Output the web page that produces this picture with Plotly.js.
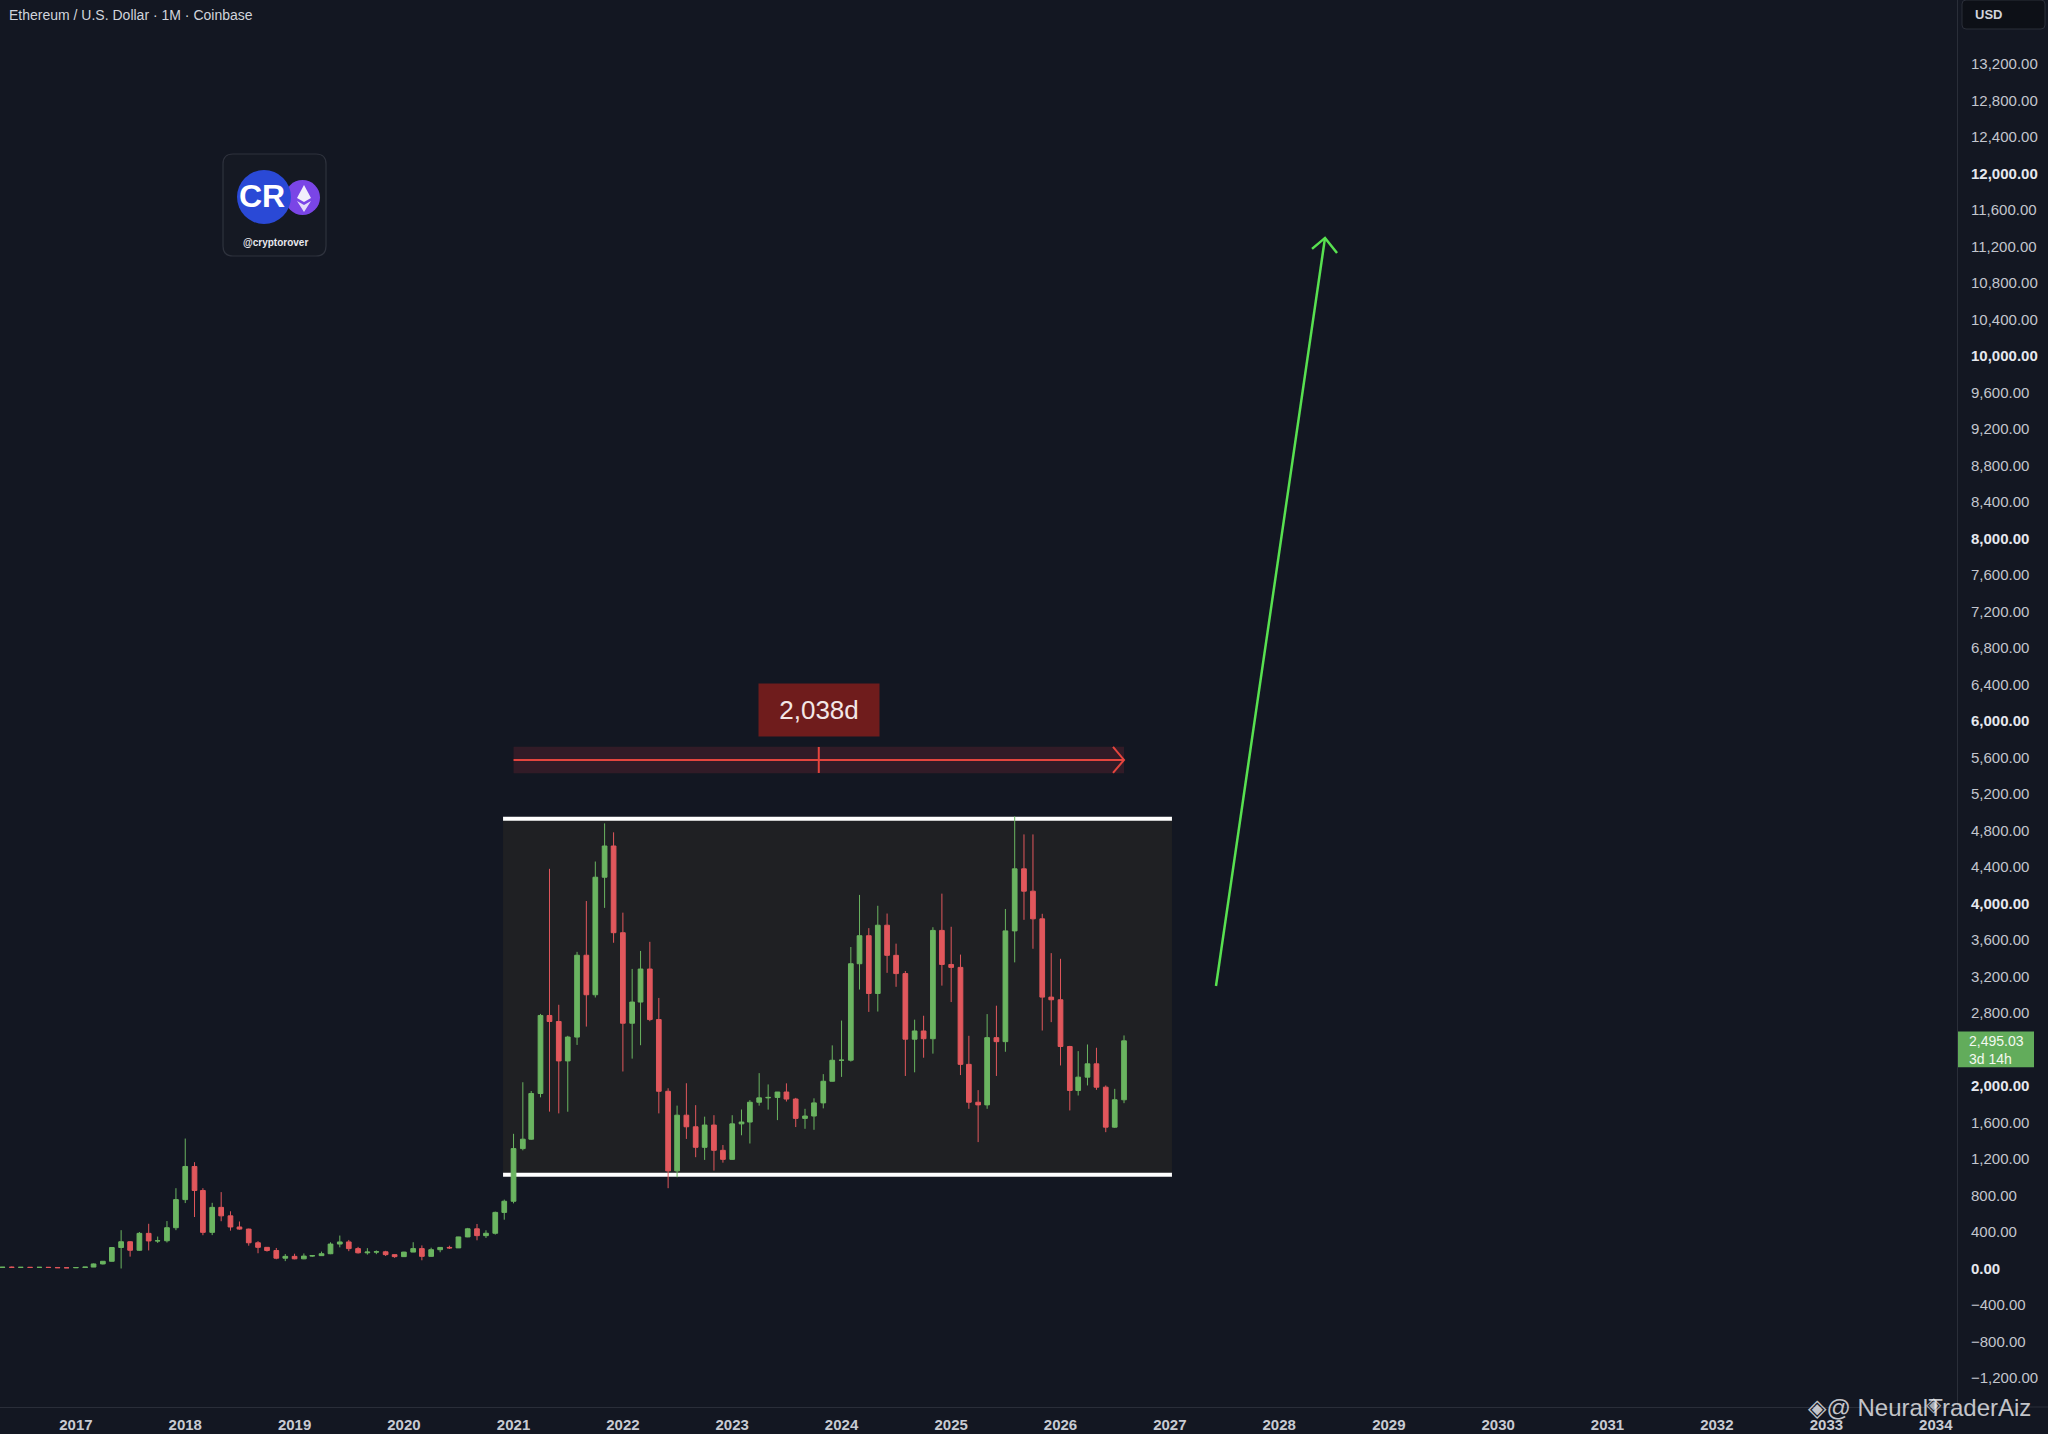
<!DOCTYPE html>
<html>
<head>
<meta charset="utf-8">
<script src="https://cdn.plot.ly/plotly-3.0.1.min.js"></script>
<style>
html,body{margin:0;padding:0;background:#131722;}
#chart{width:2048px;height:1434px;}
</style>
</head>
<body>
<div id="chart"></div>
<script>
// ---------- DATA (monthly ETH/USD candles, Coinbase) ----------
const firstMonth = [2016, 5];   // May 2016
const openP = [
  11.5,14.1,12.4,12.7,11.5,13.2,11.3,8.6,
  8.0,10.7,15.7,50,79,230,293,200,385,302,304,447,
  755,1118,855,396,670,577,455,432,282,232,197,113,
  133,106,136,141,162,268,291,218,172,180,183,152,
  130,180,218,133,206,231,226,346,435,360,386,615,
  737,1314,1417,1918,2773,2707,2275,2536,3433,3000,4288,4630,
  3680,2688,2920,3282,2728,1942,1070,1680,1553,1328,1572,1295,
  1196,1585,1605,1822,1870,1875,1934,1857,1645,1671,1815,2052,
  2282,2283,3340,3647,3014,3762,3432,3232,2513,2603,2518,3705,
  3332,3300,2237,1822,1793,2530,2486,3700,4380,4135,3832,2974,
  2945,2433,1951,2097,2243,1987,1549,1849
];
const highP = [
  14.5,21.5,14.9,12.9,14.0,13.4,11.7,8.9,
  11.6,16.5,55,82,230,420,300,400,490,350,520,880,
  1424,1165,880,720,837,627,515,437,300,233,225,158,
  162,165,147,185,287,361,313,237,223,198,194,153,
  183,288,253,228,228,250,347,445,488,419,623,755,
  1476,2041,1945,2790,4380,2890,2550,3470,4027,4460,4878,4780,
  3900,3283,3480,3580,2965,1975,1785,2030,1790,1664,1680,1353,
  1680,1742,1845,2141,2017,1930,2029,1870,1750,1865,2130,2445,
  2717,3523,4094,3730,3975,3890,3560,3260,2727,2770,3740,4108,
  3745,3440,2550,1955,2788,2880,3940,4955,4757,4757,3887,3456,
  3394,2440,2382,2455,2419,2006,1969,2554
];
const lowP = [
  9.5,11.5,10.6,10.2,11.3,10.6,8.3,5.9,
  7.9,10.2,15.3,44,77,0.1,130,195,198,280,285,420,
  717,564,365,366,518,415,425,250,167,185,101,81,
  101,102,128,138,157,232,190,164,152,157,137,117,
  127,180,90,131,178,215,225,343,309,335,372,535,
  714,1295,1410,1876,1719,1700,1718,2450,2651,2970,3952,3570,
  2159,2300,2447,2710,1700,880,1000,1420,1220,1190,1073,1160,
  1192,1460,1370,1785,1741,1626,1830,1550,1531,1520,1755,2050,
  2100,2268,3057,2812,2816,3240,3087,2110,2150,2310,2355,3100,
  2920,2120,1750,1385,1750,2110,2375,3355,3821,3504,2608,2700,
  2225,1732,1896,2006,1958,1494,1541,1812
];
const closeP = [
  14.1,12.4,12.7,11.5,13.2,11.3,8.6,8.0,
  10.7,15.7,50,79,230,293,200,385,302,304,447,755,
  1118,855,396,670,577,455,432,282,232,197,113,133,
  106,136,141,162,268,291,218,172,180,183,152,130,
  180,218,133,206,231,226,346,435,360,386,615,737,
  1314,1417,1918,2773,2707,2275,2536,3433,3000,4288,4630,3680,
  2688,2920,3282,2728,1942,1070,1680,1553,1328,1572,1295,1196,
  1585,1605,1822,1870,1875,1934,1857,1645,1671,1815,2052,2282,
  2283,3340,3647,3014,3762,3432,3232,2513,2603,2518,3705,3332,
  3300,2237,1822,1793,2530,2486,3700,4380,4135,3832,2974,2945,
  2433,1951,2097,2243,1987,1549,1849,2495.03
];
const yearLabels = ['2017','2018','2019','2020','2021','2022','2023','2024','2025','2026','2027','2028','2029','2030','2031','2032','2033','2034'];
const priceTicks = [-1200,-800,-400,0,400,800,1200,1600,2000,2800,3200,3600,4000,4400,4800,5200,5600,6000,6400,6800,7200,7600,8000,8400,8800,9200,9600,10000,10400,10800,11200,11600,12000,12400,12800,13200];
const lastPrice = 2495.03;
const lastPriceText = '2,495.03';
const countdownText = '3d 14h';
const rangeDaysText = '2,038d';
// range box & drawing levels
const boxTop = 4929, boxBottom = 1027;
const boxStart = '2020-11-27', boxEnd = '2027-01-08';
const rangeStart = '2021-01-01', rangeEnd = '2026-08-01', rangeMid = '2023-10-17';
const rangeLevel = 5573, rangeBandLow = 5427, rangeBandHigh = 5719, rangeLabelLevel = 6121;
const arrowStart = ['2027-06-04', 3096], arrowEnd = ['2028-06-02', 11294];

// ---------- month categories ----------
const months = [];
for (let i = 0; i < openP.length; i++) {
  const y = firstMonth[0] + Math.floor((firstMonth[1] - 1 + i) / 12);
  const m = (firstMonth[1] - 1 + i) % 12 + 1;
  months.push(y + '-' + String(m).padStart(2, '0') + '-01');
}

// ---------- geometry ----------
const W = 2048, H = 1434;
const M = {l: 0, r: 91, t: 0, b: 27};
const plotW = W - M.l - M.r, plotH = H - M.t - M.b;
const x2017px = 75.9, x2034px = 1935.8;
const t2017 = Date.UTC(2017, 0, 1), t2034 = Date.UTC(2034, 0, 1);
const msPerPx = (t2034 - t2017) / (x2034px - x2017px);
const xRange = [t2017 - x2017px * msPerPx, t2017 + (plotW - x2017px) * msPerPx];
const zeroPx = 1268.5, pricePerPx = 400 / 36.5;
const yRange = [-(plotH - zeroPx) * pricePerPx, zeroPx * pricePerPx];
const px = v => v / plotW;
const py = v => 1 - v / plotH;

const fmt = v => {
  const s = Math.abs(v).toLocaleString('en-US', {minimumFractionDigits: 2, maximumFractionDigits: 2});
  return (v < 0 ? '\u2212' : '') + s;
};
const tickText = priceTicks.map(v => (v % 2000 === 0) ? '<b><span style="fill:#e6e8ee">' + fmt(v) + '</span></b>' : fmt(v));
const yearVals = yearLabels.map(y => y + '-01-01');

const GREEN = '#6ab460', RED = '#e1575c';
const FONT = 'Liberation Sans, Arial, sans-serif';

const trace = {
  type: 'candlestick',
  x: months, open: openP, high: highP, low: lowP, close: closeP,
  increasing: {line: {color: GREEN, width: 1}, fillcolor: GREEN},
  decreasing: {line: {color: RED, width: 1}, fillcolor: RED},
  whiskerwidth: 0,
  hoverinfo: 'skip',
  showlegend: false
};

const pix = {xref: 'paper', yref: 'paper', xsizemode: 'pixel', ysizemode: 'pixel', xanchor: 0, yanchor: 1};

const shapes = [
  // consolidation box
  {type: 'rect', xref: 'x', yref: 'y', x0: boxStart, x1: boxEnd, y0: boxBottom, y1: boxTop,
   fillcolor: '#1f2023', line: {width: 0}, layer: 'below'},
  {type: 'line', xref: 'x', yref: 'y', x0: boxStart, x1: boxEnd, y0: boxTop, y1: boxTop,
   line: {color: '#ffffff', width: 4}, layer: 'below'},
  {type: 'line', xref: 'x', yref: 'y', x0: boxStart, x1: boxEnd, y0: boxBottom, y1: boxBottom,
   line: {color: '#ffffff', width: 4}, layer: 'below'},
  // date range
  {type: 'rect', xref: 'x', yref: 'y', x0: rangeStart, x1: rangeEnd, y0: rangeBandLow, y1: rangeBandHigh,
   fillcolor: 'rgba(242,54,69,0.14)', line: {width: 0}},
  {type: 'line', xref: 'x', yref: 'y', x0: rangeStart, x1: rangeEnd, y0: rangeLevel, y1: rangeLevel,
   line: {color: '#e5453e', width: 2}},
  {type: 'line', xref: 'x', yref: 'y', ysizemode: 'pixel', yanchor: rangeLevel, x0: rangeMid, x1: rangeMid, y0: -13, y1: 13,
   line: {color: '#e5453e', width: 2}},
  {type: 'path', xref: 'x', yref: 'y', xsizemode: 'pixel', ysizemode: 'pixel', xanchor: rangeEnd, yanchor: rangeLevel,
   path: 'M-11,13 L0,0 L-11,-13', line: {color: '#e5453e', width: 2}},
  // green projection arrow
  {type: 'line', xref: 'x', yref: 'y', x0: arrowStart[0], y0: arrowStart[1], x1: arrowEnd[0], y1: arrowEnd[1],
   line: {color: '#58e150', width: 2.5}},
  {type: 'path', xref: 'x', yref: 'y', xsizemode: 'pixel', ysizemode: 'pixel', xanchor: arrowEnd[0], yanchor: arrowEnd[1],
   path: 'M-13,-11 L0,0 L12,-15', line: {color: '#58e150', width: 2.5}},
  // logo
  Object.assign({type: 'path', path: 'M233,-154 L316,-154 Q326,-154 326,-164 L326,-246 Q326,-256 316,-256 L233,-256 Q223,-256 223,-246 L223,-164 Q223,-154 233,-154 Z',
   fillcolor: '#151923', line: {color: '#2e323d', width: 1.2}}, pix),
  Object.assign({type: 'circle', x0: 285, x1: 320, y0: -180, y1: -215, fillcolor: '#7a45e6', line: {width: 0}}, pix),
  Object.assign({type: 'circle', x0: 237, x1: 291, y0: -170, y1: -224, fillcolor: '#2a49d6', line: {width: 0}}, pix),
  Object.assign({type: 'path', path: 'M304,-185 L311,-198 L304,-202 L297,-198 Z', fillcolor: '#f2eefc', line: {width: 0}}, pix),
  Object.assign({type: 'path', path: 'M297,-201 L304,-205 L311,-201 L304,-212 Z', fillcolor: '#e4dcfa', line: {width: 0}}, pix),
  // USD box
  Object.assign({type: 'path', path: 'M1966,0 L2041,0 Q2045,0 2045,-4 L2045,-25 Q2045,-29 2041,-29 L1966,-29 Q1962,-29 1962,-25 L1962,-4 Q1962,0 1966,0 Z',
   fillcolor: '#0d1017', line: {color: '#2a2e39', width: 1}}, pix),
  // x axis line continuation under price scale
  {type: 'line', xref: 'paper', yref: 'paper', x0: 1, x1: W / plotW, y0: 0, y1: 0, line: {color: '#2a2e39', width: 1}},
  // last price label
  {type: 'rect', xref: 'paper', yref: 'y', ysizemode: 'pixel', yanchor: lastPrice,
   x0: 1958 / plotW, x1: 2034 / plotW, y0: -26.3, y1: 9.3, fillcolor: '#62ac5b', line: {width: 0}}
];

const annotations = [
  {xref: 'paper', yref: 'paper', x: px(7), y: py(15), xanchor: 'left', yanchor: 'middle', showarrow: false,
   text: 'Ethereum / U.S. Dollar · 1M · Coinbase', font: {family: FONT, size: 14, color: '#d1d4dc'}},
  {xref: 'x', yref: 'y', x: rangeMid, y: rangeLabelLevel, showarrow: false, text: rangeDaysText,
   font: {family: FONT, size: 26, color: '#f3e7e7'}, bgcolor: '#6f1c1c', width: 120, height: 52, borderpad: 0,
   xanchor: 'center', yanchor: 'middle'},
  {xref: 'paper', yref: 'paper', x: px(262), y: py(196), showarrow: false, text: '<b>CR</b>',
   font: {family: FONT, size: 32, color: '#ffffff'}, xanchor: 'center', yanchor: 'middle'},
  {xref: 'paper', yref: 'paper', x: px(275), y: py(242), showarrow: false, text: '<b>@cryptorover</b>',
   font: {family: FONT, size: 10, color: '#e8e8ee'}, xanchor: 'center', yanchor: 'middle'},
  {xref: 'paper', yref: 'paper', x: px(1973), y: py(14.5), showarrow: false, text: '<b>USD</b>',
   font: {family: FONT, size: 13, color: '#d1d4dc'}, xanchor: 'left', yanchor: 'middle'},
  {xref: 'paper', yref: 'y', x: px(1967), y: lastPrice, yshift: -0.5, showarrow: false, text: lastPriceText,
   font: {family: FONT, size: 14, color: '#f2f8f0'}, xanchor: 'left', yanchor: 'middle'},
  {xref: 'paper', yref: 'y', x: px(1967), y: lastPrice, yshift: -17.7, showarrow: false, text: countdownText,
   font: {family: FONT, size: 14, color: '#f2f8f0'}, xanchor: 'left', yanchor: 'middle'},
  {xref: 'paper', yref: 'paper', x: px(1806), y: py(1407), showarrow: false, text: '◈@ NeuralTraderAiz',
   font: {family: 'Liberation Sans, DejaVu Sans, sans-serif', size: 24, color: 'rgba(235,236,240,0.82)'},
   xanchor: 'left', yanchor: 'middle'},
  {xref: 'paper', yref: 'paper', x: px(1924), y: py(1404), showarrow: false, text: '◈',
   font: {family: 'DejaVu Sans, sans-serif', size: 20, color: 'rgba(235,236,240,0.7)'},
   xanchor: 'left', yanchor: 'middle'}
];

const layout = {
  width: W, height: H,
  margin: M,
  paper_bgcolor: '#131722', plot_bgcolor: '#131722',
  showlegend: false,
  boxgap: 0.2,
  font: {family: FONT, color: '#c3c6ce'},
  xaxis: {
    type: 'date', range: xRange, rangeslider: {visible: false},
    tickvals: yearVals, ticktext: yearLabels.map(s => '<b>' + s + '</b>'),
    tickfont: {family: FONT, size: 15, color: '#c8cbd3'},
    ticks: '', showgrid: false, zeroline: false, showline: true, linecolor: '#2a2e39', linewidth: 1,
    ticklabelstandoff: 4, fixedrange: true
  },
  yaxis: {
    side: 'right', range: yRange,
    tickvals: priceTicks, ticktext: tickText,
    tickfont: {family: FONT, size: 15, color: '#c3c6ce'},
    ticks: '', showgrid: false, zeroline: false, showline: true, linecolor: '#2a2e39', linewidth: 1,
    ticklabelstandoff: 10, fixedrange: true
  },
  shapes: shapes,
  annotations: annotations
};

Plotly.newPlot('chart', [trace], layout, {displayModeBar: false, staticPlot: true});
</script>
</body>
</html>
